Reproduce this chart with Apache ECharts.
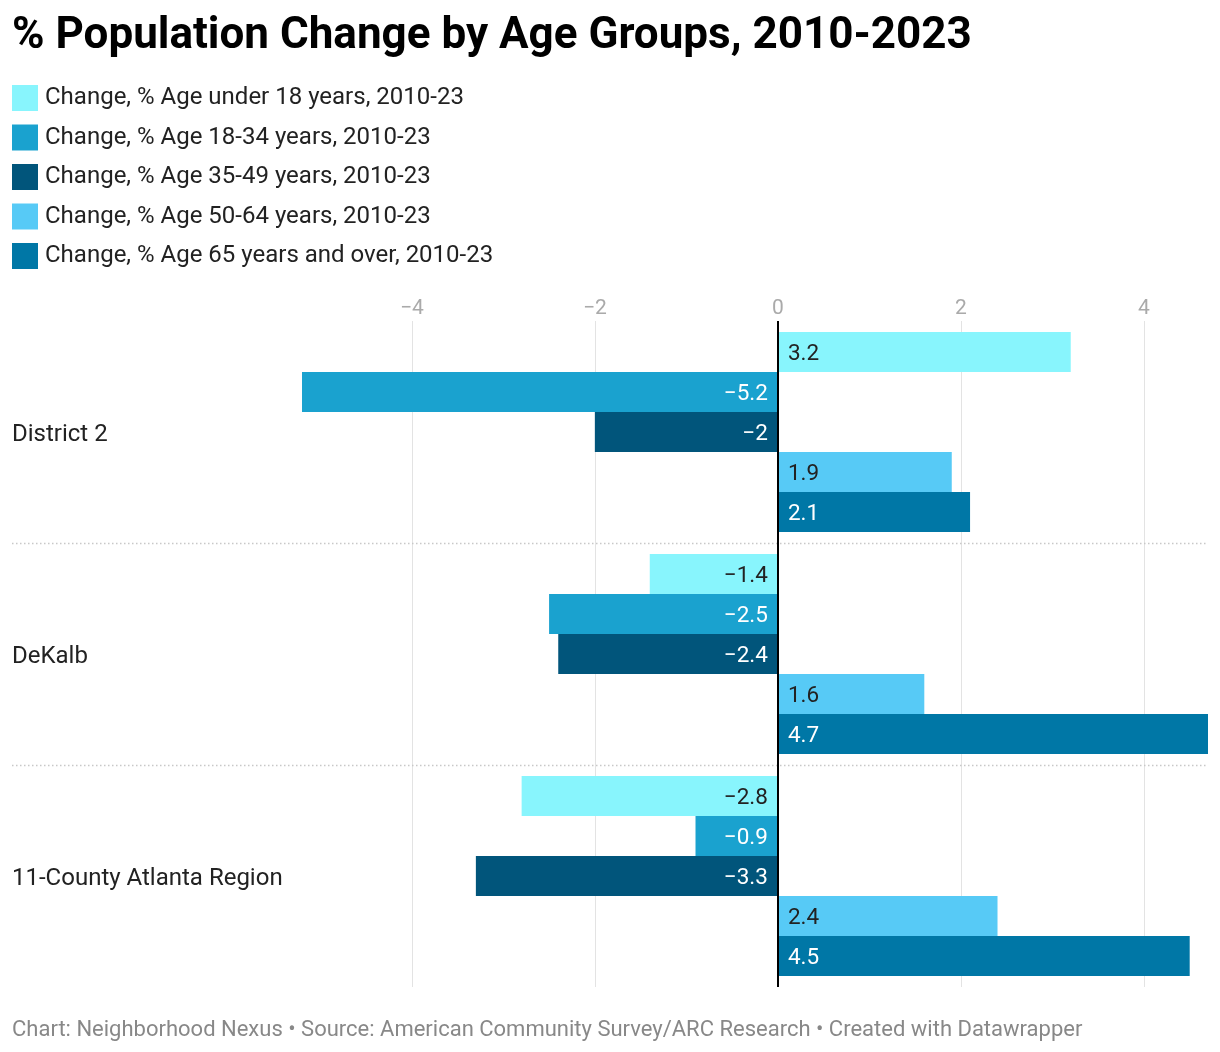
<!DOCTYPE html>
<html>
<head>
<meta charset="utf-8">
<script src="https://cdn.jsdelivr.net/npm/echarts@6/dist/echarts.min.js"></script>
<style>
html,body{margin:0;padding:0;background:#fff;}
#chart{width:1220px;height:1052px;}
</style>
</head>
<body>
<div id="chart"></div>
<script>
const categories = ['District 2', 'DeKalb', '11-County Atlanta Region'];
const seriesNames = [
  'Change, % Age under 18 years, 2010-23',
  'Change, % Age 18-34 years, 2010-23',
  'Change, % Age 35-49 years, 2010-23',
  'Change, % Age 50-64 years, 2010-23',
  'Change, % Age 65 years and over, 2010-23'
];
const ageUnder18 = [3.2, -1.4, -2.8];
const age18to34 = [-5.2, -2.5, -0.9];
const age35to49 = [-2, -2.4, -3.3];
const age50to64 = [1.9, 1.6, 2.4];
const age65plus = [2.1, 4.7, 4.5];
const seriesValues = [ageUnder18, age18to34, age35to49, age50to64, age65plus];
const colors = ['#88f5fd', '#1aa2cf', '#01557b', '#57caf6', '#0077a6'];
const labelColors = ['#222', '#fff', '#fff', '#222', '#fff'];
const axisMin = -5.2, axisMax = 4.7;

const FONT = 'Roboto, "Noto Sans", sans-serif';
const fmt = v => String(v).replace('-', '\u2212');

const chart = echarts.init(document.getElementById('chart'), null, {renderer: 'canvas'});

const series = seriesValues.map((vals, i) => {
  const s = {
    name: seriesNames[i],
    type: 'bar',
    barWidth: 40,
    barGap: '0%',
    itemStyle: {color: colors[i]},
    data: vals.map(v => ({
      value: v,
      label: {position: v >= 0 ? 'insideLeft' : 'insideRight'}
    })),
    label: {
      show: true,
      color: labelColors[i],
      fontSize: 22.5,
      fontFamily: FONT,
      distance: 10,
      offset: [0, 2],
      formatter: p => fmt(p.value)
    },
    emphasis: {disabled: true}
  };
  if (i === seriesValues.length - 1) {
    s.markLine = {
      silent: true,
      symbol: 'none',
      z: 10,
      label: {show: false},
      lineStyle: {color: '#000', width: 2, type: 'solid'},
      data: [{xAxis: 0}]
    };
  }
  return s;
});

chart.setOption({
  animation: false,
  backgroundColor: '#fff',
  textStyle: {fontFamily: FONT},
  title: [
    {
      text: '% Population Change by Age Groups, 2010-2023',
      left: 12, top: 15, padding: 0,
      textStyle: {fontSize: 44, fontWeight: 'bold', color: '#000', fontFamily: FONT}
    },
    {
      text: 'Chart: Neighborhood Nexus \u2022 Source: American Community Survey/ARC Research \u2022 Created with Datawrapper',
      left: 12, top: 1019, padding: 0,
      textStyle: {fontSize: 22, fontWeight: 'normal', color: '#888', fontFamily: FONT}
    }
  ],
  legend: {
    orient: 'vertical',
    left: 12, top: 85, padding: 0,
    itemWidth: 26, itemHeight: 26, itemGap: 13.5,
    icon: 'rect',
    selectedMode: false,
    textStyle: {fontSize: 24, color: '#222', fontFamily: FONT, padding: [0, 0, 0, 2]},
    data: seriesNames
  },
  grid: {left: 302, right: 12, top: 321, height: 666, containLabel: false},
  xAxis: {
    type: 'value',
    position: 'top',
    min: axisMin, max: axisMax,
    splitNumber: 5,
    axisLine: {show: false},
    axisTick: {show: false},
    axisLabel: {
      show: true, color: '#aaa', fontSize: 21, margin: 2, fontFamily: FONT,
      showMinLabel: false, showMaxLabel: false,
      formatter: v => fmt(v)
    },
    splitLine: {show: true, showMinLine: false, showMaxLine: false, lineStyle: {color: '#e3e3e3', width: 1}}
  },
  yAxis: {
    type: 'category',
    inverse: true,
    data: categories,
    axisLine: {show: false},
    axisTick: {show: false},
    splitLine: {show: false},
    axisLabel: {
      align: 'left', margin: 290, fontSize: 24, color: '#222', fontFamily: FONT,
      formatter: v => '{c|' + v + '}',
      rich: {c: {fontSize: 24, color: '#222', fontFamily: FONT, padding: [5, 0, 0, 0]}}
    }
  },
  series: series
});

// dotted separators between category groups
const centers = categories.map(c => chart.convertToPixel({yAxisIndex: 0}, c));
const seps = [];
for (let i = 0; i < centers.length - 1; i++) {
  const y = Math.round((centers[i] + centers[i + 1]) / 2) + 0.5;
  seps.push({
    type: 'line', silent: true, z: 0,
    shape: {x1: 12, y1: y, x2: 1208, y2: y},
    style: {stroke: '#c8c8c8', lineWidth: 1.5, lineDash: [1.5, 2.5]}
  });
}
chart.setOption({graphic: seps});
</script>
</body>
</html>
